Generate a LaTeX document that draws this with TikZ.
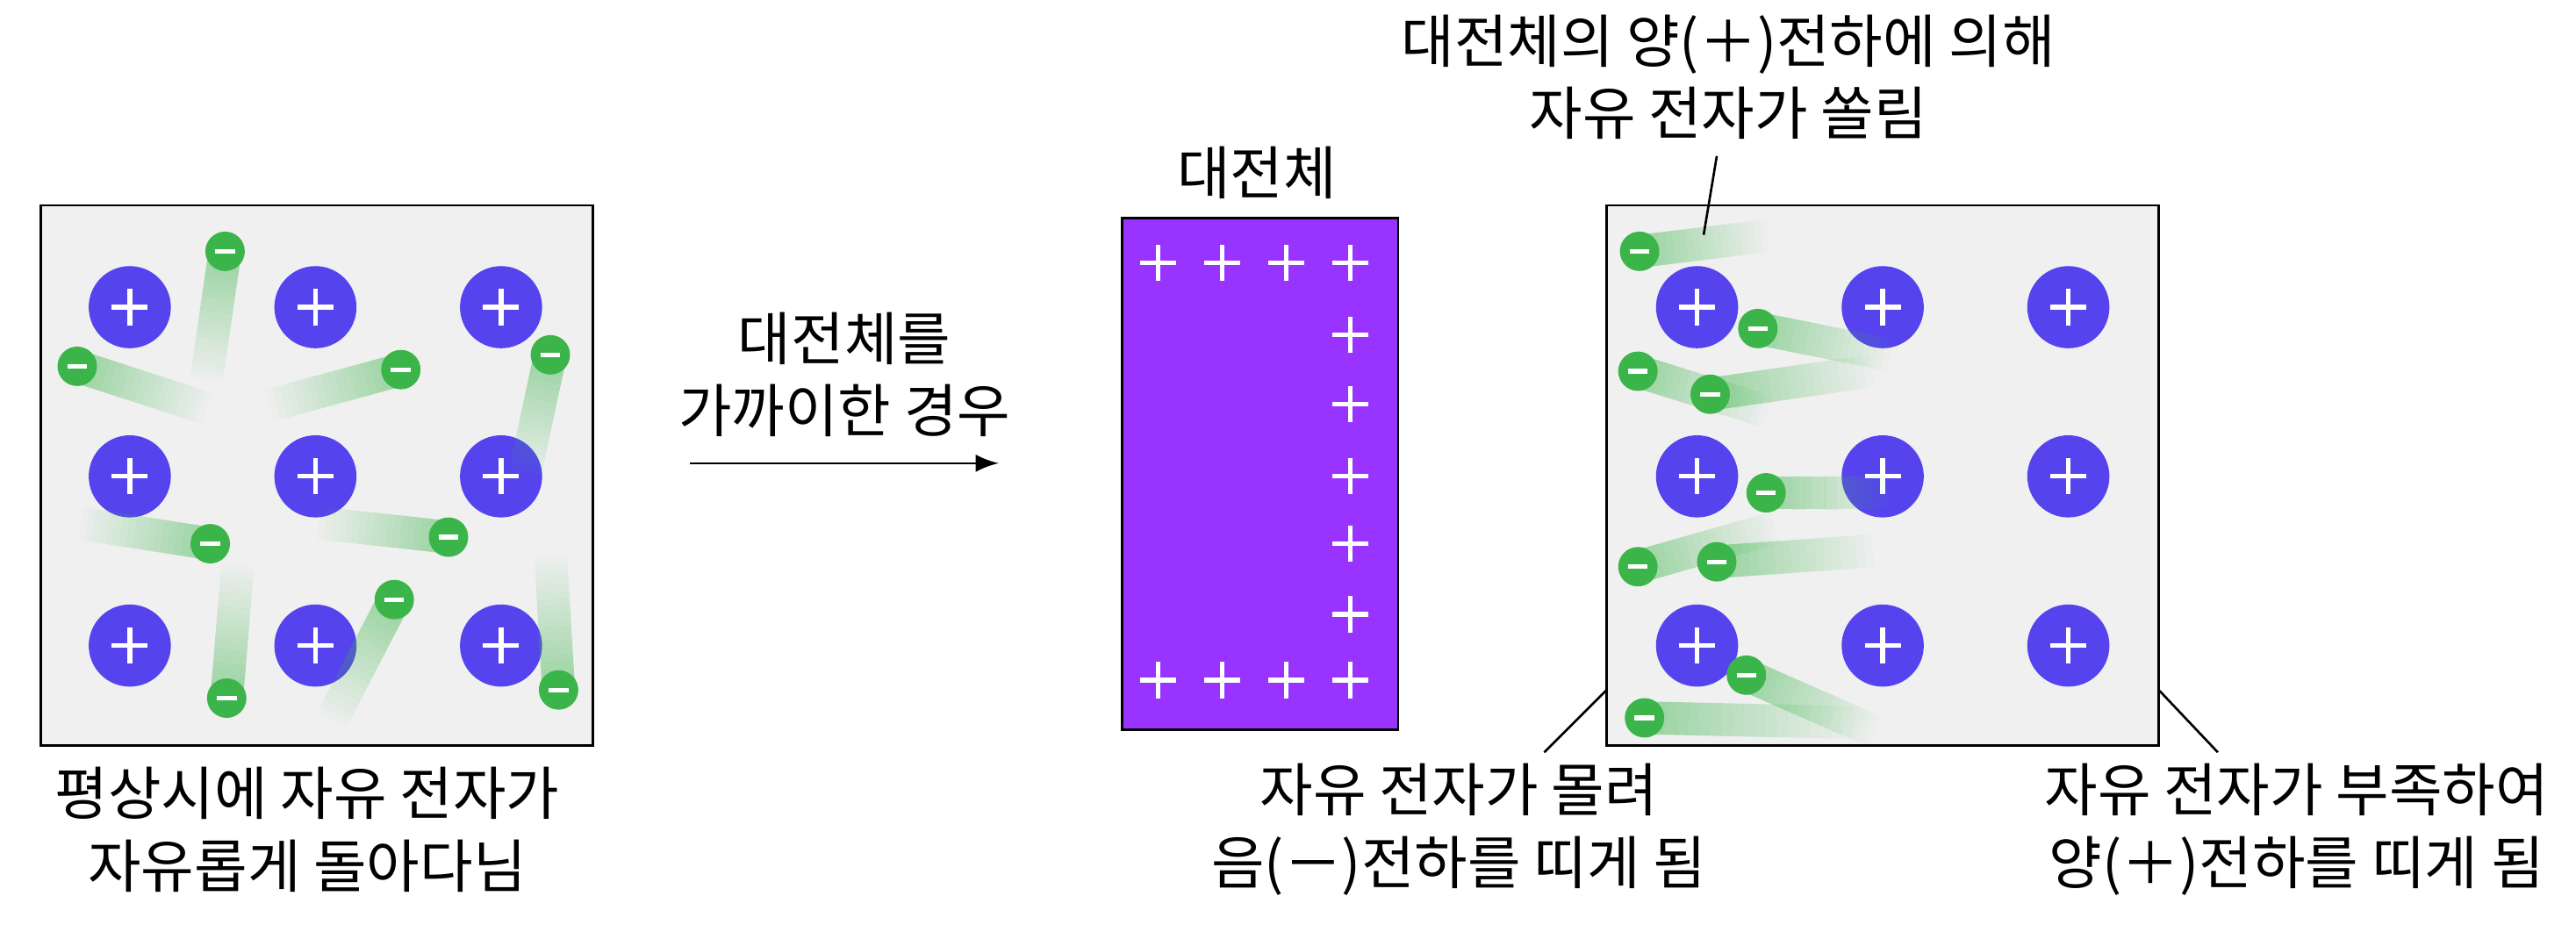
\documentclass[tikz,border=0pt]{standalone}
\usepackage{fontspec}
\setmainfont{Noto Sans CJK KR}
\usetikzlibrary{calc}
\definecolor{ioncol}{HTML}{5544EE}
\definecolor{eleccol}{HTML}{3BB54A}
\definecolor{rodcol}{HTML}{9933FF}
\definecolor{boxcol}{HTML}{F0F0F0}
\newcommand{\ion}[2]{%
  \fill[ioncol] (#1,#2) circle (25);
  \draw[white,thick] (#1-11,#2) -- (#1+11,#2) (#1,#2-11) -- (#1,#2+11);}
\newcommand{\elec}[4]{%
  \foreach \i in {0,...,19}{
    \draw[eleccol,line width=0.2cm,opacity=\i/40]
      ($(#3,#4)!\i/20!(#1,#2)$) -- ($(#3,#4)!\i/20+0.05!(#1,#2)$);}
  \fill[eleccol] (#1,#2) circle (12);
  \draw[white,thick] (#1-6,#2) -- (#1+6,#2);}
\newcommand{\rodplus}[2]{\draw[white,thick] (#1-11,#2) -- (#1+11,#2) (#1,#2-11) -- (#1,#2+11);}
\begin{document}
\begin{tikzpicture}[x=0.01cm,y=-0.01cm,
    font=\fontsize{10}{10.5}\selectfont,
    panel/.style={draw,fill=boxcol},
    label/.style={align=center,inner sep=0pt},
    leader/.style={thin}]
  \useasboundingbox (0,0) rectangle (1568,567);
  % left panel
  \fill[boxcol] (25,125) rectangle (361,454);
  \foreach \x in {79,192,305}{\foreach \y in {187,290,393}{\ion{\x}{\y}}}
  \elec{137}{153}{125}{235}
  \elec{47}{223}{130}{250}
  \elec{244}{225}{160}{248}
  \elec{335}{216}{318}{295}
  \elec{128}{331}{45}{318}
  \elec{273}{327}{190}{318}
  \elec{138}{425}{145}{340}
  \elec{240}{365}{200}{442}
  \elec{340}{420}{335}{335}
  \draw (25,125) rectangle (361,454);
  \node (normal) [label] at (187,505) {평상시에 자유 전자가\\[2pt]자유롭게 돌아다님};
  % arrow
  \node (close) [label] at (514,228) {대전체를\\[2pt]가까이한 경우};
  \coordinate (arrA) at (420,282);
  \coordinate (arrB) at (608,282);
  \draw[-latex] (arrA) -- (arrB);
  % charged rod
  \node (rod) [draw=black,fill=rodcol,minimum width=1.68cm,minimum height=3.11cm,inner sep=0pt] at (767,288.5) {};
  \node (rodname) [label] at (765,105) {대전체};
  \foreach \x in {705,744,783,822}{\rodplus{\x}{160}\rodplus{\x}{414}}
  \foreach \y in {204,246,290,331,374}{\rodplus{822}{\y}}
  % right panel
  \fill[boxcol] (978,125) rectangle (1314,454);
  \foreach \x in {1033,1146,1259}{\foreach \y in {187,290,393}{\ion{\x}{\y}}}
  \elec{998}{153}{1080}{143}
  \elec{1070}{200}{1155}{217}
  \elec{997}{226}{1080}{252}
  \elec{1041}{240}{1145}{225}
  \elec{1075}{300}{1155}{300}
  \elec{997}{345}{1085}{320}
  \elec{1045}{342}{1145}{335}
  \elec{1063}{411}{1145}{447}
  \elec{1001}{437}{1135}{440}
  \draw (978,125) rectangle (1314,454);
  \node (attract) [label] at (1052,47) {대전체의 양(＋)전하에 의해\\[2pt]자유 전자가 쏠림};
  \node (negside) [label] at (888,505) {자유 전자가 몰려\\[2pt]음(－)전하를 띠게 됨};
  \node (posside) [label] at (1398,505) {자유 전자가 부족하여\\[2pt]양(＋)전하를 띠게 됨};
  \coordinate (lA) at (1045,95);  \coordinate (lB) at (1037,143);
  \coordinate (lC) at (978,420);  \coordinate (lD) at (940,458);
  \coordinate (lE) at (1314,420); \coordinate (lF) at (1350,458);
  \draw[leader] (lA) -- (lB);
  \draw[leader] (lC) -- (lD);
  \draw[leader] (lE) -- (lF);
\end{tikzpicture}
\end{document}
